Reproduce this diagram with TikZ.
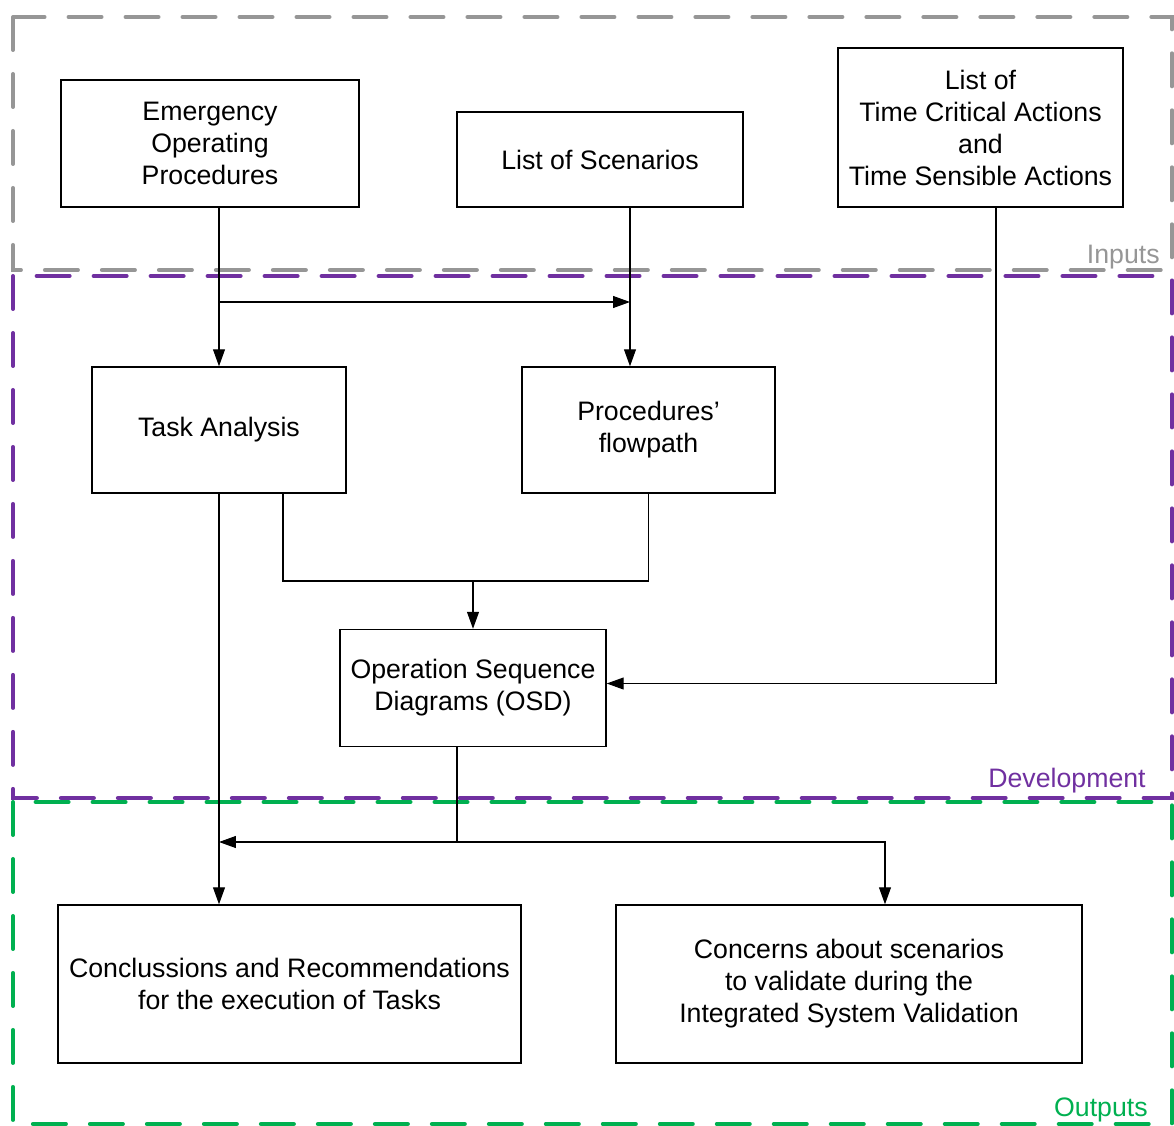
\documentclass[tikz,border=0pt]{standalone}
\usepackage{fontspec}
\setmainfont{Liberation Sans}
\usetikzlibrary{arrows.meta}
\definecolor{framegray}{RGB}{150,150,150}
\definecolor{framepurple}{RGB}{112,48,160}
\definecolor{framegreen}{RGB}{0,176,80}
\begin{document}
\begin{tikzpicture}[x=0.02cm,y=-0.02cm,
    block/.style={draw,line width=0.85pt,align=center,inner sep=2pt,
        font=\fontsize{15.2}{18.2}\selectfont},
    arr/.style={-{Triangle[length=0.34cm,width=0.24cm]},line width=0.6pt},
    link/.style={line width=0.6pt},
    frame/.style={line width=0.08cm,line cap=round,dash pattern=on 0.66cm off 0.48cm},
    tag/.style={anchor=base east,inner sep=0pt,font=\fontsize{15.2}{18.2}\selectfont}]
    \useasboundingbox (0,0) rectangle (1174,1126);
    \draw[frame,framegray] (13,17) rectangle (1172,270);
    \draw[frame,framepurple] (13,276) rectangle (1172,798);
    \draw[frame,framegreen] (13,802) rectangle (1172,1124);
    \node[tag,framegray] (inputs) at (1160,263) {Inputs};
    \node[tag,framepurple] (development) at (1146,787) {Development};
    \node[tag,framegreen] (outputs) at (1148,1116) {Outputs};

    \node[block,minimum width=5.96cm,minimum height=2.54cm] (eop) at (210,143.5)
        {Emergency\\Operating\\Procedures};
    \node[block,minimum width=5.72cm,minimum height=1.9cm] (scen) at (600,159.5)
        {List of Scenarios};
    \node[block,minimum width=5.7cm,minimum height=3.18cm] (tca) at (980.5,127.5)
        {List of\\Time Critical Actions\\and\\Time Sensible Actions};
    \node[block,minimum width=5.08cm,minimum height=2.52cm] (task) at (219,430)
        {Task Analysis};
    \node[block,minimum width=5.06cm,minimum height=2.52cm] (flow) at (648.5,430)
        {Procedures'\\flowpath};
    \node[block,minimum width=5.32cm,minimum height=2.34cm] (osd) at (473,688)
        {Operation Sequence\\Diagrams (OSD)};
    \node[block,minimum width=9.26cm,minimum height=3.16cm] (concl) at (289.5,984)
        {Conclussions and Recommendations\\for the execution of Tasks};
    \node[block,minimum width=9.32cm,minimum height=3.16cm] (concern) at (849,984)
        {Concerns about scenarios\\to validate during the\\Integrated System Validation};

    \coordinate (split) at (219,302);
    \coordinate (scenout) at ([xshift=0.6cm]scen.south);
    \coordinate (tcaout) at ([xshift=0.31cm]tca.south);
    \coordinate (taskout) at ([xshift=1.28cm]task.south);
    \coordinate (merge) at (473,581);
    \coordinate (fork) at (457,842);

    \draw[arr] (eop.south -| task.north) -- (task.north);
    \draw[arr] (split) -- (split -| scenout);
    \draw[arr] (scenout) -- (scenout |- flow.north);
    \draw[arr] (tcaout) |- ([yshift=0.09cm]osd.east);
    \draw[link] (taskout) |- (merge) -| (flow.south);
    \draw[arr] (merge) -- (osd.north);
    \draw[arr] (task.south) -- (task.south |- concl.north);
    \draw[link] (osd.south -| fork) -- (fork);
    \draw[arr] (fork) -- (fork -| task.south);
    \draw[arr] (fork) -| ([xshift=0.72cm]concern.north);
\end{tikzpicture}
\end{document}
